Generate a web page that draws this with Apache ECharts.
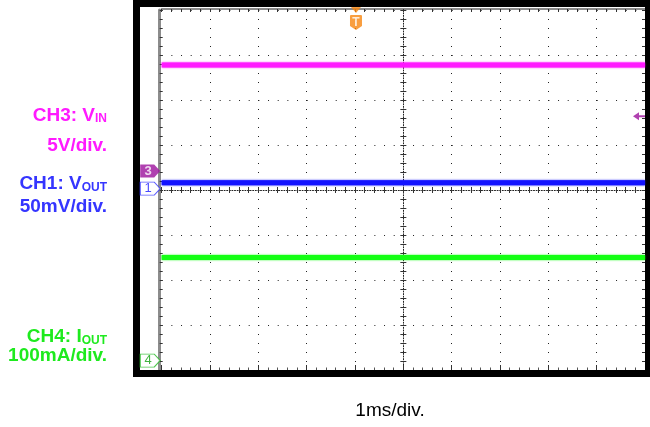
<!DOCTYPE html>
<html><head><meta charset="utf-8">
<script src="https://cdn.jsdelivr.net/npm/echarts@6/dist/echarts.min.js"></script>
<style>html,body{margin:0;padding:0;background:#fff}#c{width:650px;height:427px}</style>
</head><body><div id="c"></div>
<script>
// Horizontal axis: time in divisions (1 ms/div), 10 divisions
const timeSpan = [-5, 5];
// Vertical axis: screen divisions, 8 divisions
const vertSpan = [-4, 4];
// Traces (level in divisions)
const traceNames = ['CH3', 'CH1', 'CH4'];
const traceLevels = [2.78, 0.16, -1.5];
const traceColors = ['#ff18ff', '#1212ff', '#14ff14'];
// Channel ground-reference markers on the left edge
const refNames = ['3', '1', '4'];
const refLevels = [0.42, 0.03, -3.79];
// Trigger position (time, div) and trigger level (div)
const triggerTime = [-0.98];
const triggerLevel = [1.64];
// Left-hand channel captions
const capMain = ['CH3: V', 'CH1: V', 'CH4: I'];
const capSub = ['IN', 'OUT', 'OUT'];
const capScale = ['5V/div.', '50mV/div.', '100mA/div.'];
const capColors = ['#ff1aff', '#3535ff', '#1eea1e'];
const timeScale = '1ms/div.';

const FONT = 'Liberation Sans, Arial, Helvetica, sans-serif';
const chart = echarts.init(document.getElementById('c'), null, {renderer: 'canvas'});

const GRID = {left: 161.7, top: 10, width: 483.3, height: 360};

function tickAxis(extra) {
  return Object.assign({
    type: 'value', min: timeSpan[0], max: timeSpan[1], interval: 1,
    axisLabel: {show: false}, splitLine: {show: false},
    axisLine: {show: false, onZero: false},
    axisTick: {show: true, inside: true, length: 3, lineStyle: {color: '#333', width: 1}},
    minorTick: {show: true, splitNumber: 5, length: 3, lineStyle: {color: '#333', width: 1}}
  }, extra);
}
function tickYAxis(extra) {
  const a = tickAxis(extra);
  a.min = vertSpan[0]; a.max = vertSpan[1];
  return a;
}

const xAxes = [
  tickAxis({position: 'bottom', axisTick: {show: true, inside: true, length: 5, lineStyle: {color: '#333'}},
    minorTick: {show: true, splitNumber: 5, length: 2.5, lineStyle: {color: '#555'}},
    splitLine: {show: true, lineStyle: {color: '#222', width: 1, type: [1, 8]}}}),
  tickAxis({position: 'top', offset: 1,
    axisLine: {show: true, onZero: false, lineStyle: {color: '#8c8c8c', width: 2}}}),
  tickAxis({position: 'bottom', offset: -180,
    axisLine: {show: true, onZero: false, lineStyle: {color: '#222', width: 1, type: [1, 1.6]}}}),
  tickAxis({position: 'bottom', offset: -180, axisTick: {show: true, inside: false, length: 3, lineStyle: {color: '#333'}},
    minorTick: {show: true, splitNumber: 5, length: 3, lineStyle: {color: '#333'}}})
];
const yAxes = [
  tickYAxis({position: 'left', offset: 2,
    axisLine: {show: true, onZero: false, lineStyle: {color: '#8c8c8c', width: 3}},
    splitLine: {show: true, lineStyle: {color: '#222', width: 1, type: [1, 8.667]}}}),
  tickYAxis({position: 'right'}),
  tickYAxis({position: 'left', offset: -241.65,
    axisLine: {show: true, onZero: false, lineStyle: {color: '#222', width: 1, type: [1, 1.6]}}}),
  tickYAxis({position: 'left', offset: -241.65, axisTick: {show: true, inside: false, length: 3, lineStyle: {color: '#333'}},
    minorTick: {show: true, splitNumber: 5, length: 3, lineStyle: {color: '#333'}}})
];

const traceSeries = traceNames.map((n, i) => ({
  name: n, type: 'line', xAxisIndex: 0, yAxisIndex: 0, symbol: 'none', z: 3,
  lineStyle: {color: traceColors[i], width: 5, shadowColor: traceColors[i], shadowBlur: 2},
  data: timeSpan.map(t => [t, traceLevels[i]])
}));

const PENT = 'path://M0,0H14L20,6.5L14,13H0Z';
const refSeries = {
  type: 'scatter', clip: false, z: 10, xAxisIndex: 0, yAxisIndex: 0,
  data: refNames.map((n, i) => ({
    value: [timeSpan[0], refLevels[i]], name: n,
    symbol: PENT, symbolSize: [20, 13], symbolOffset: [-11.5, 0],
    itemStyle: i === 0 ? {color: '#9c119c'} : {color: '#fff', borderColor: i === 1 ? '#3030ff' : '#22b822', borderWidth: 1},
    label: {show: true, position: 'inside', formatter: n, offset: [-2, 0], fontFamily: FONT,
      fontSize: 13, fontWeight: i === 0 ? 'bold' : 'normal',
      color: i === 0 ? '#fff' : (i === 1 ? '#1a1aff' : '#10a010')}
  }))
};
const trigSeries = {
  type: 'scatter', clip: false, z: 10, xAxisIndex: 0, yAxisIndex: 0,
  data: triggerTime.map(t => ({
    value: [t, vertSpan[1]],
    symbol: 'path://M1,0H11L6,6Z M1,8H11Q12,8 12,9V19L6,23L0,19V9Q0,8 1,8Z', symbolSize: [12, 23], symbolOffset: [0, 8.5],
    itemStyle: {color: '#f7860f'},
    label: {show: true, position: 'inside', formatter: 'T', offset: [0, 4], color: '#fff', fontWeight: 'bold', fontSize: 12, fontFamily: FONT}
  }))
};
const levelSeries = {
  type: 'scatter', clip: false, z: 10, xAxisIndex: 0, yAxisIndex: 0,
  data: triggerLevel.map(l => ({
    value: [timeSpan[1], l],
    symbol: 'path://M0,4L6,0V3H12V5H6V8Z', symbolSize: [12, 8], symbolOffset: [-6, 0],
    itemStyle: {color: '#9c119c'}
  }))
};

const capY = [[115.5, 145.5], [184, 207], [336.7, 355.5]];
const graphics = [
  {type: 'rect', shape: {x: 133, y: 0, width: 517, height: 7}, style: {fill: '#000'}, z: 1},
  {type: 'rect', shape: {x: 133, y: 0, width: 7, height: 377}, style: {fill: '#000'}, z: 1},
  {type: 'rect', shape: {x: 133, y: 370, width: 517, height: 7}, style: {fill: '#000'}, z: 1},
  {type: 'rect', shape: {x: 645, y: 0, width: 5, height: 377}, style: {fill: '#000'}, z: 1}
];
capMain.forEach((m, i) => {
  graphics.push({type: 'text', x: 107, y: capY[i][0], z: 5, style: {
    text: '{m|' + m + '}{s|' + capSub[i] + '}', align: 'right', verticalAlign: 'middle',
    rich: {
      m: {fill: capColors[i], fontSize: 19, fontWeight: 'bold', fontFamily: FONT},
      s: {fill: capColors[i], fontSize: 12, fontWeight: 'bold', fontFamily: FONT, verticalAlign: 'bottom'}
    }}});
  graphics.push({type: 'text', x: 107, y: capY[i][1], z: 5, style: {
    text: capScale[i], align: 'right', verticalAlign: 'middle',
    fill: capColors[i], fontSize: 19, fontWeight: 'bold', fontFamily: FONT}});
});
graphics.push({type: 'text', x: 390, y: 411, z: 5, style: {
  text: timeScale, align: 'center', verticalAlign: 'middle', fill: '#000', fontSize: 19, fontFamily: FONT}});

chart.setOption({
  animation: false,
  backgroundColor: '#fff',
  grid: Object.assign({show: false}, GRID),
  xAxis: xAxes,
  yAxis: yAxes,
  graphic: graphics,
  series: traceSeries.concat([refSeries, trigSeries, levelSeries])
});
</script></body></html>
